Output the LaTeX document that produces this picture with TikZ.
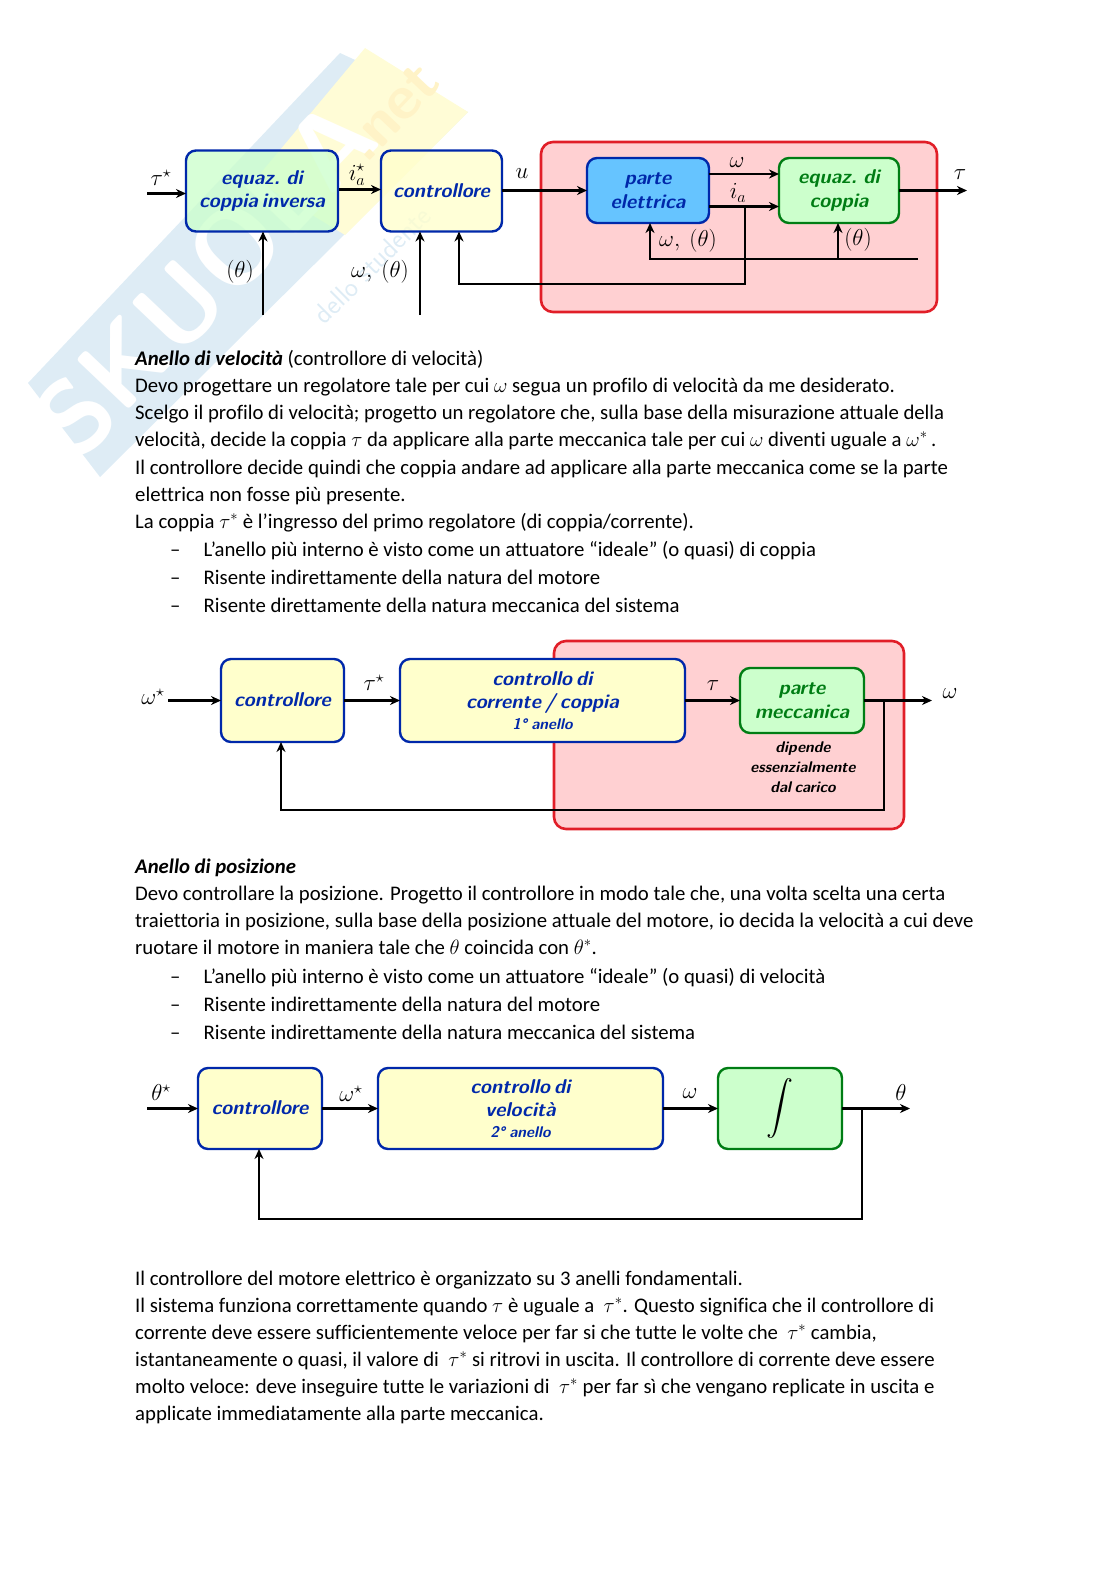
\RequirePackage{fix-cm}
\documentclass[tikz,border=0pt]{standalone}
\usepackage{fontspec}
\setmainfont{Carlito}[Ligatures=NoCommon]
\usetikzlibrary{arrows.meta}
\definecolor{bordoblu}{RGB}{0,40,170}
\definecolor{bordoverde}{RGB}{0,125,20}
\definecolor{bordorosso}{RGB}{225,30,40}
\definecolor{fondogiallo}{RGB}{255,255,204}
\definecolor{fondoverde}{RGB}{204,255,204}
\definecolor{fondoazzurro}{RGB}{102,196,255}
\definecolor{fondorosa}{RGB}{255,208,210}
\definecolor{filigrana}{RGB}{222,236,245}
\definecolor{filigial}{RGB}{255,252,214}
\newcommand{\spazio}[1]{\spaceskip=#1\relax}
\newcommand{\ctrltxt}{\raisebox{1.5pt}{controllore}}
\tikzset{
  blocco/.style={draw,rounded corners=10pt,line width=2.4pt,align=center,inner sep=0pt,outer sep=0pt,
    font=\fontsize{20}{23.5}\selectfont\sffamily\bfseries\slshape\spazio{4pt}},
  bloccoblu/.style={blocco,draw=bordoblu,text=bordoblu},
  bloccoverde/.style={blocco,draw=bordoverde,text=bordoverde,fill=fondoverde},
  trasp/.style={fill opacity=.78,text opacity=1},
  piano/.style={draw=bordorosso,fill=fondorosa,rounded corners=12pt,line width=2.6pt,inner sep=0pt,outer sep=0pt},
  freccia/.style={-{Stealth[length=10pt,width=9pt]},line width=2.8pt},
  lab/.style={font=\fontsize{23}{26}\selectfont,inner sep=0pt},
  rigo/.style={anchor=base west,inner sep=0pt,font=\fontsize{20.75}{25}\selectfont}
}
\begin{document}
\begin{tikzpicture}[>=Stealth,x=1pt,y=-1pt]
\useasboundingbox (0,0) rectangle (1116,1579);
% filigrana
\fill[filigrana] (28,383) -- (340,53) -- (468,112) -- (100,477) -- cycle;
\fill[filigial] (365,48) -- (468,112) -- (345,235) -- (255,180) -- cycle;
\node[rotate=46.5,text=white,inner sep=0pt,font=\fontsize{104}{104}\selectfont\sffamily\bfseries] (marchio) at (205,278) {SKUOLA};
\node[rotate=46.5,text=filigial!93!orange,inner sep=0pt,font=\fontsize{62}{62}\selectfont\sffamily\bfseries] (marchionet) at (392,112) {.net};
\node[rotate=45,text=filigrana,inner sep=0pt,font=\fontsize{28}{28}\selectfont\sffamily] (motto) at (372,265) {dello studente};
% primo schema
\node[piano,minimum width=396pt,minimum height=170pt] (pianoA) at (739,227) {};
\node[bloccoblu,fill=fondoverde,trasp,minimum width=152pt,minimum height=81pt] (inversa) at (262,191) {equaz. di\\coppia inversa};
\node[bloccoblu,fill=fondogiallo,trasp,minimum width=121pt,minimum height=81pt] (ctrlA) at (441.5,191) {\ctrltxt};
\node[bloccoblu,fill=fondoazzurro,minimum width=122pt,minimum height=65pt] (elet) at (648,190.5) {parte\\elettrica};
\node[bloccoverde,minimum width=120pt,minimum height=65pt] (coppia) at (839,190.5) {equaz. di\\coppia};
\coordinate (inA) at (147,193.5);
\coordinate (iaA) at (339,189.5);
\coordinate (outA) at (967,190.5);
\coordinate (thetaA) at (263,315);
\coordinate (omegaA) at (420,315);
\coordinate (nodoia) at (745,206.5);
\coordinate (gomitoA) at (745,284);
\coordinate (gomitoB) at (459,284);
\coordinate (fineth) at (918,259);
\coordinate (gomitoC) at (650,259);
\coordinate (nodoth) at (838,259);
\draw[freccia] (inA) -- (inversa.west |- inA);
\draw[freccia] (iaA) -- (ctrlA.west |- iaA);
\draw[freccia] (ctrlA.east |- elet) -- (elet);
\draw[freccia] ([yshift=16.5pt]elet.east) -- ([yshift=16.5pt]coppia.west);
\draw[freccia] ([yshift=-16pt]elet.east) -- ([yshift=-16pt]coppia.west);
\draw[freccia] (coppia) -- (outA);
\draw[freccia] (thetaA) -- (thetaA |- inversa.south);
\draw[freccia] (omegaA) -- (omegaA |- ctrlA.south);
\draw[freccia] (nodoia) -- (gomitoA) -- (gomitoB) -- (gomitoB |- ctrlA.south);
\draw[freccia] (fineth) -- (gomitoC) -- (gomitoC |- elet.south);
\draw[freccia] (nodoth) -- (nodoth |- coppia.south);
\node[lab] (tauA) at (161,178) {$\tau^\star$};
\node[lab] (iaLab) at (357,175) {$i_a^\star$};
\node[lab] (uA) at (522,174) {$u$};
\node[lab] (omA) at (737,163) {$\omega$};
\node[lab] (iaB) at (738,193) {$i_a$};
\node[lab] (tauB) at (960,175) {$\tau$};
\node[lab] (thA) at (240,272) {$(\theta)$};
\node[lab] (omthA) at (380,272) {$\omega,\ (\theta)$};
\node[lab] (omthB) at (688,241) {$\omega,\ (\theta)$};
\node[lab] (thB) at (858,240) {$(\theta)$};
% testo anello di velocita
\node[rigo] (r1) at (135,365.5) {\textbf{\textit{Anello di velocità}} (controllore di velocità)};
\node[rigo] (r2) at (135,392.5) {Devo progettare un regolatore tale per cui $\omega$ segua un profilo di velocità da me desiderato.};
\node[rigo] (r3) at (135,419.5) {Scelgo il profilo di velocità; progetto un regolatore che, sulla base della misurazione attuale della};
\node[rigo] (r4) at (135,446.5) {velocità, decide la coppia $\tau$ da applicare alla parte meccanica tale per cui $\omega$ diventi uguale a $\omega^*$\,.};
\node[rigo] (r5) at (135,474) {Il controllore decide quindi che coppia andare ad applicare alla parte meccanica come se la parte};
\node[rigo] (r6) at (135,501) {elettrica non fosse più presente.};
\node[rigo] (r7) at (135,528.5) {La coppia $\tau^*$ è l’ingresso del primo regolatore (di coppia/corrente).};
\node[rigo] (r8) at (203.5,556) {L’anello più interno è visto come un attuatore “ideale” (o quasi) di coppia};
\node[rigo] (r9) at (203.5,584.5) {Risente indirettamente della natura del motore};
\node[rigo] (r10) at (203.5,612.5) {Risente direttamente della natura meccanica del sistema};
\foreach \yy [count=\n] in {556,584.5,612.5}
  \node[rigo] (trattoA\n) at (170,\yy) {--};
% secondo schema
\node[piano,minimum width=350pt,minimum height=188pt] (pianoB) at (729,735) {};
\node[bloccoblu,fill=fondogiallo,minimum width=123pt,minimum height=83pt] (ctrlC) at (282.5,700.5) {\ctrltxt};
\node[bloccoblu,fill=fondogiallo,minimum width=285pt,minimum height=83pt] (corr) at (542.5,700.5) {controllo di\\corrente / coppia\\[-3pt]{\fontsize{15.5}{18}\selectfont 1° anello}};
\node[bloccoverde,minimum width=124pt,minimum height=65pt] (mecc) at (802,700.5) {parte\\meccanica};
\node[align=center,inner sep=0pt,font=\fontsize{15.5}{20.2}\selectfont\sffamily\bfseries\slshape\spazio{3.5pt}] (carico) at (803,767) {dipende\\essenzialmente\\dal carico};
\coordinate (inB) at (168,700.5);
\coordinate (outB) at (932,700.5);
\coordinate (nodoB) at (884,700.5);
\coordinate (gomitoD) at (884,810);
\coordinate (gomitoE) at (281,810);
\draw[freccia] (inB) -- (ctrlC);
\draw[freccia] (ctrlC) -- (corr);
\draw[freccia] (corr) -- (mecc);
\draw[freccia] (mecc) -- (outB);
\draw[freccia] (nodoB) -- (gomitoD) -- (gomitoE) -- (gomitoE |- ctrlC.south);
\node[lab] (omB) at (153,697) {$\omega^\star$};
\node[lab] (tauC) at (374,683) {$\tau^\star$};
\node[lab] (tauD) at (713,686) {$\tau$};
\node[lab] (omC) at (950,694) {$\omega$};
% testo anello di posizione
\node[rigo] (p1) at (135,873.5) {\textbf{\textit{Anello di posizione}}};
\node[rigo] (p2) at (135,900) {Devo controllare la posizione. Progetto il controllore in modo tale che, una volta scelta una certa};
\node[rigo] (p3) at (135,927) {traiettoria in posizione, sulla base della posizione attuale del motore, io decida la velocità a cui deve};
\node[rigo] (p4) at (135,954) {ruotare il motore in maniera tale che $\theta$ coincida con $\theta^*$.};
\node[rigo] (p5) at (203.5,983) {L’anello più interno è visto come un attuatore “ideale” (o quasi) di velocità};
\node[rigo] (p6) at (203.5,1011.5) {Risente indirettamente della natura del motore};
\node[rigo] (p7) at (203.5,1039.5) {Risente indirettamente della natura meccanica del sistema};
\foreach \yy [count=\n] in {983,1011.5,1039.5}
  \node[rigo] (trattoB\n) at (170,\yy) {--};
% terzo schema
\node[bloccoblu,fill=fondogiallo,minimum width=124pt,minimum height=81pt] (ctrlV) at (260,1108.5) {\ctrltxt};
\node[bloccoblu,fill=fondogiallo,minimum width=285pt,minimum height=81pt] (vel) at (520.5,1108.5) {controllo di\\velocità\\[-3pt]{\fontsize{15.5}{18}\selectfont 2° anello}};
\node[bloccoverde,text=black,minimum width=124pt,minimum height=81pt] (integ) at (780,1108.5) {\scalebox{2.7}{$\displaystyle\int$}};
\coordinate (inC) at (147,1108.5);
\coordinate (outC) at (910,1108.5);
\coordinate (nodoC) at (862,1108.5);
\coordinate (gomitoF) at (862,1219);
\coordinate (gomitoG) at (259,1219);
\draw[freccia] (inC) -- (ctrlV);
\draw[freccia] (ctrlV) -- (vel);
\draw[freccia] (vel) -- (integ);
\draw[freccia] (integ) -- (outC);
\draw[freccia] (nodoC) -- (gomitoF) -- (gomitoG) -- (gomitoG |- ctrlV.south);
\node[lab] (thC) at (161,1093) {$\theta^\star$};
\node[lab] (omD) at (351,1094) {$\omega^\star$};
\node[lab] (omE) at (690,1094) {$\omega$};
\node[lab] (thD) at (901,1093) {$\theta$};
% testo finale
\node[rigo] (f1) at (135,1285.5) {Il controllore del motore elettrico è organizzato su 3 anelli fondamentali.};
\node[rigo] (f2) at (135,1312.5) {Il sistema funziona correttamente quando $\tau$ è uguale a\ \ $\tau^*$. Questo significa che il controllore di};
\node[rigo] (f3) at (135,1339.5) {corrente deve essere sufficientemente veloce per far si che tutte le volte che\ \ $\tau^*$ cambia,};
\node[rigo] (f4) at (135,1366.5) {istantaneamente o quasi, il valore di\ \ $\tau^*$ si ritrovi in uscita. Il controllore di corrente deve essere};
\node[rigo] (f5) at (135,1393.5) {molto veloce: deve inseguire tutte le variazioni di\ \ $\tau^*$ per far sì che vengano replicate in uscita e};
\node[rigo] (f6) at (135,1420.5) {applicate immediatamente alla parte meccanica.};
\end{tikzpicture}
\end{document}
